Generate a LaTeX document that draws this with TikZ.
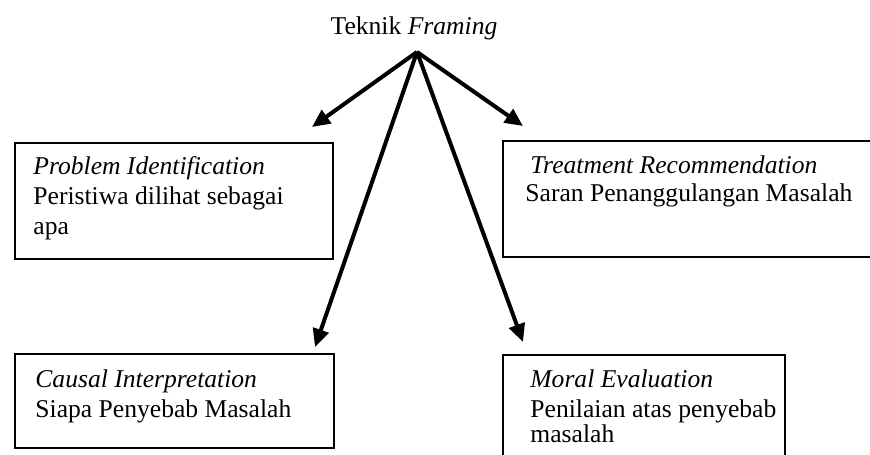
\documentclass[tikz,border=0pt]{standalone}
\usepackage{fontspec}
\setmainfont{Liberation Serif}
\usetikzlibrary{arrows.meta}
\begin{document}
\begin{tikzpicture}[x=0.5pt,y=-0.5pt,
    frame/.style={draw,line width=1.1pt,anchor=north west,inner sep=0pt},
    boxtext/.style={anchor=north west,align=left,inner sep=0pt,font=\fontsize{12.8}{15}\selectfont},
    branch/.style={-{Triangle[length=9pt,width=8pt]},line width=2pt}]
  \useasboundingbox (0,0) rectangle (870,454);
  \node[anchor=base,font=\fontsize{12.8}{15}\selectfont] (title) at (414,35) {Teknik \textit{Framing}};
  \coordinate (apex) at (417,52);
  % boxes
  \node[frame,minimum width=159pt,minimum height=58pt] (probbox) at (14,142) {};
  \node[frame,minimum width=190pt,minimum height=58pt] (treatbox) at (502,140) {};
  \node[frame,minimum width=159.5pt,minimum height=47pt] (causbox) at (14,353) {};
  \node[frame,minimum width=141pt,minimum height=60pt] (moralbox) at (502,354) {};
  % texts
  \node[boxtext] (probtext) at (33,156.5) {\textit{Problem Identification}\\Peristiwa dilihat sebagai\\apa};
  \node[boxtext] (treattext) at (525,155.5) {\hspace{2.5pt}\textit{Treatment Recommendation}\\[-1pt]Saran Penanggulangan Masalah};
  \node[boxtext] (caustext) at (35,369.5) {\textit{Causal Interpretation}\\Siapa Penyebab Masalah};
  \node[boxtext] (moraltext) at (530,369.5) {\textit{Moral Evaluation}\\Penilaian atas penyebab\\[-2.5pt]masalah};
  % arrow tips
  \coordinate (probtip) at (312,127);
  \coordinate (treattip) at (523,126);
  \coordinate (caustip) at (315,347);
  \coordinate (moraltip) at (523,342);
  \begin{scope}[branch]
    \draw (apex) to (probtip);
    \draw (apex) to (treattip);
    \draw (apex) to (caustip);
    \draw (apex) to (moraltip);
  \end{scope}
\end{tikzpicture}
\end{document}
